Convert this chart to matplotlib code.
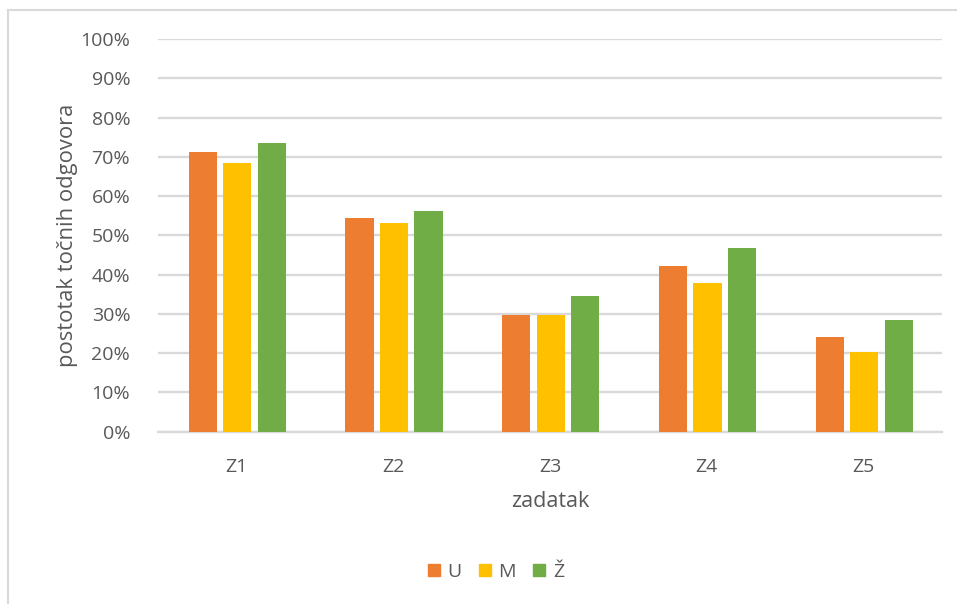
import matplotlib
matplotlib.use("Agg")
import matplotlib.pyplot as plt
import numpy as np
from matplotlib.ticker import PercentFormatter, MultipleLocator
from matplotlib.lines import Line2D

categories = ["Z1", "Z2", "Z3", "Z4", "Z5"]
series_names = ["U", "M", "Ž"]
U = [71.3, 54.5, 29.8, 42.3, 24.2]
M = [68.5, 53.2, 29.8, 37.9, 20.4]
Z = [73.6, 56.3, 34.6, 46.9, 28.5]
colors = ["#ED7D31", "#FFC000", "#70AD47"]

plt.rcParams['font.family'] = ['Open Sans', 'DejaVu Sans']
txt = "#595959"

fig = plt.figure(figsize=(9.57, 6.04), dpi=100)
ax = fig.add_axes([158/957, 1-431.7/604, (942-158)/957, (431.7-39)/604])

x = np.arange(len(categories))
step = 0.22
width = 0.18
for i, (vals, name, c) in enumerate(zip([U, M, Z], series_names, colors)):
    ax.bar(x + (i-1)*step + 0.005, vals, width=width, color=c, label=name, zorder=3)

ax.set_xlim(-0.5, len(categories)-0.5)
ax.set_ylim(0, 100)
ax.yaxis.set_major_locator(MultipleLocator(10))
ax.yaxis.set_major_formatter(PercentFormatter(decimals=0))
ax.grid(axis='y', color='#d9d9d9', linewidth=1.7, zorder=0)
ax.set_axisbelow(True)
for s in ['top', 'right', 'left']:
    ax.spines[s].set_visible(False)
ax.spines['bottom'].set_color('#d9d9d9')
ax.spines['bottom'].set_linewidth(1.7)
ax.tick_params(axis='both', length=0, colors=txt, labelsize=14)
ax.tick_params(axis='y', pad=20)
ax.tick_params(axis='x', pad=19)
ax.set_xticks(x)
ax.set_xticklabels(categories)
ax.set_xlabel("zadatak", color=txt, fontsize=15.5, labelpad=11)
ax.set_ylabel("postotak točnih odgovora", color=txt, fontsize=15.8, labelpad=2)

handles = [plt.Rectangle((0, 0), 1, 1, color=c) for c in colors]
fig.legend(handles, series_names, loc='center', bbox_to_anchor=(496/957, 1-572/604),
           ncol=3, frameon=False, fontsize=14, labelcolor=txt,
           handlelength=0.6, handleheight=0.6, handletextpad=0.4, columnspacing=0.9)

# chart border (top and left)
fig.add_artist(Line2D([8/957, 8/957], [0, 1-10/604], color='#d9d9d9', linewidth=1.5, transform=fig.transFigure))
fig.add_artist(Line2D([8/957, 1], [1-10/604, 1-10/604], color='#d9d9d9', linewidth=1.5, transform=fig.transFigure))

fig.savefig("out.png", dpi=100)
